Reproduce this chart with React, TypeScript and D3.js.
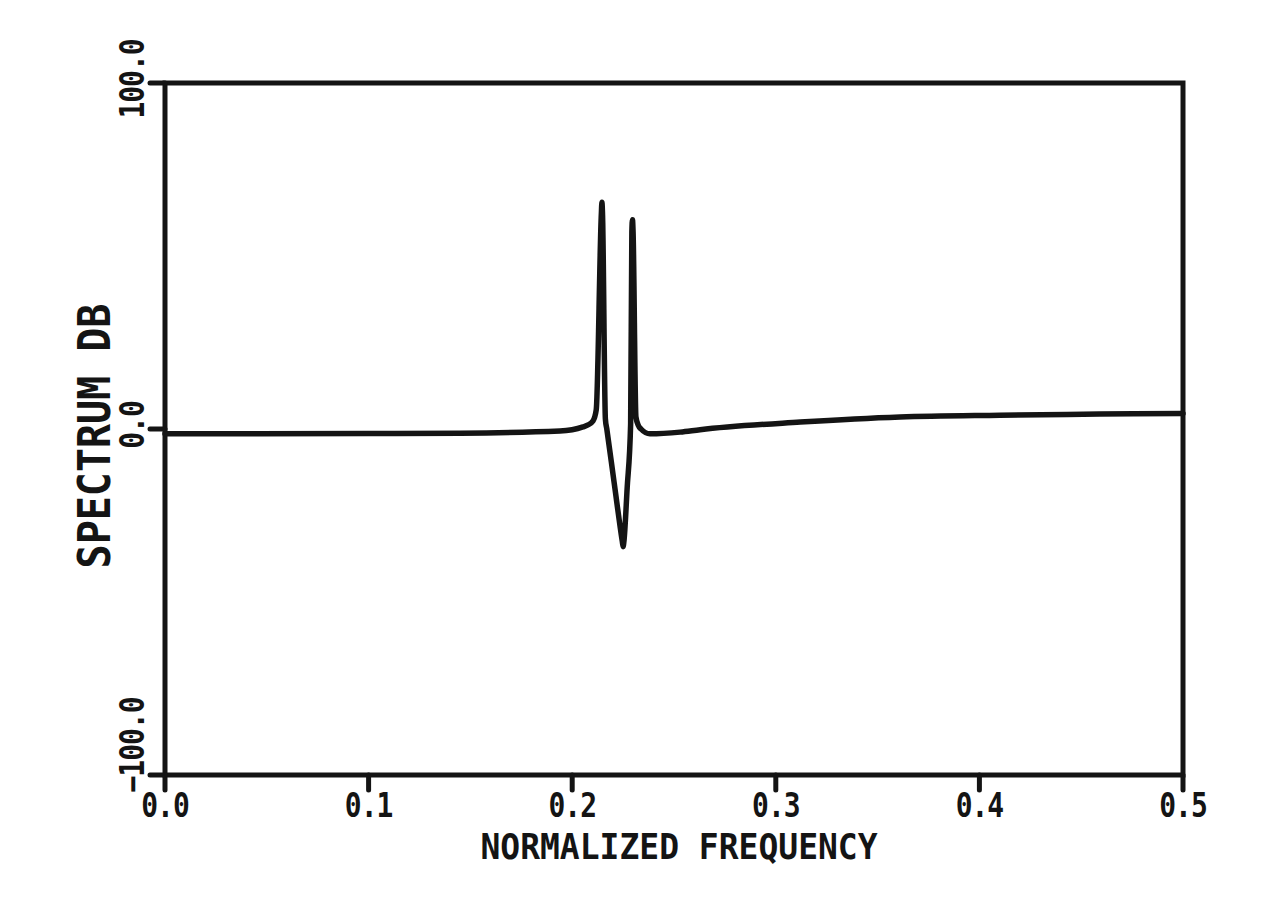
import React, { useEffect, useRef } from 'react';
import * as d3 from 'd3';

// normalized frequency / spectrum (dB)
const freq = [0, 0.1, 0.145, 0.194, 0.2053, 0.2075, 0.2102, 0.2118, 0.2143, 0.2146, 0.2149, 0.2163, 0.217, 0.2206, 0.2246, 0.225, 0.2254, 0.227, 0.2287, 0.2293, 0.2296, 0.2299, 0.2313, 0.2325, 0.2338, 0.2382, 0.253, 0.2628, 0.312, 0.361, 0.41, 0.459, 0.5];
const spectrumDb = [-1.4, -1.3, -1.2, -0.6, 0.6, 1.1, 2.3, 5.5, 62, 65.5, 62, 2.9, 0, -15.5, -32.5, -34, -32.5, -17, 1.5, 57, 60.5, 57, 3.5, 1.0, 0, -1.4, -0.9, -0.2, 2.0, 3.5, 4.0, 4.3, 4.5];

const xTicks = [0, 0.1, 0.2, 0.3, 0.4, 0.5];
const yTicks = [-100, 0, 100];
const xTitle = 'NORMALIZED FREQUENCY';
const yTitle = 'SPECTRUM DB';

const width = 1271;
const height = 920;
const ink = '#141414';
const font = '"DejaVu Sans Mono", monospace';

function SpectrumChart() {
  const ref = useRef<SVGSVGElement>(null);

  useEffect(() => {
    const margin = { top: 83, right: 88, bottom: 145, left: 165 };
    const svg = d3.select(ref.current);
    svg.selectAll('*').remove();

    const x = d3.scaleLinear().domain([0, 0.5]).range([margin.left, width - margin.right]);
    const y = d3.scaleLinear().domain([-100, 100]).range([height - margin.bottom, margin.top]);
    const bottom = height - margin.bottom;

    svg.append('rect').attr('width', width).attr('height', height).attr('fill', '#fff');

    // frame
    svg.append('rect')
      .attr('x', margin.left)
      .attr('y', margin.top)
      .attr('width', x(0.5) - x(0))
      .attr('height', bottom - margin.top)
      .attr('fill', 'none')
      .attr('stroke', ink)
      .attr('stroke-width', 5);

    // bottom ticks + labels
    const xg = svg.append('g');
    xTicks.forEach(t => {
      xg.append('line')
        .attr('x1', x(t)).attr('x2', x(t))
        .attr('y1', bottom).attr('y2', bottom + 15)
        .attr('stroke', ink).attr('stroke-width', 5).attr('stroke-linecap', 'round');
      xg.append('g')
        .attr('transform', `translate(${x(t)},${bottom + 42}) scale(1,1.2)`)
        .append('text')
        .attr('text-anchor', 'middle')
        .style('font-family', font)
        .style('font-weight', 'bold')
        .style('font-size', '28px')
        .style('letter-spacing', '-1px')
        .attr('fill', ink)
        .text(d3.format('.1f')(t));
    });

    // left ticks + rotated labels
    const yg = svg.append('g');
    yTicks.forEach(t => {
      yg.append('line')
        .attr('x1', margin.left - 15).attr('x2', margin.left)
        .attr('y1', y(t)).attr('y2', y(t))
        .attr('stroke', ink).attr('stroke-width', 5).attr('stroke-linecap', 'round');
      const cy = Math.min(y(t) - 4, bottom - 30);
      yg.append('g')
        .attr('transform', `translate(${margin.left - 21},${cy}) rotate(-90) scale(1,1.2)`)
        .append('text')
        .attr('text-anchor', 'middle')
        .style('font-family', font)
        .style('font-weight', 'bold')
        .style('font-size', '28px')
        .style('letter-spacing', '-1px')
        .attr('fill', ink)
        .text(d3.format('.1f')(t));
    });

    // axis titles
    svg.append('g')
      .attr('transform', `translate(${(x(0) + x(0.5)) / 2 + 5},${bottom + 84}) scale(1,1.1)`)
      .append('text')
      .attr('text-anchor', 'middle')
      .style('font-family', font)
      .style('font-weight', 'bold')
      .style('font-size', '33px')
      .attr('fill', ink)
      .text(xTitle);

    svg.append('g')
      .attr('transform', `translate(${margin.left - 55},${y(0) + 7}) rotate(-90) scale(1,1.1)`)
      .append('text')
      .attr('text-anchor', 'middle')
      .style('font-family', font)
      .style('font-weight', 'bold')
      .style('font-size', '40px')
      .attr('fill', ink)
      .text(yTitle);

    // spectrum curve
    const line = d3.line<number>()
      .x((d, i) => x(freq[i]))
      .y(d => y(d))
      .curve(d3.curveMonotoneX);

    svg.append('path')
      .attr('d', line(spectrumDb))
      .attr('fill', 'none')
      .attr('stroke', ink)
      .attr('stroke-width', 5.5)
      .attr('stroke-linejoin', 'round')
      .attr('stroke-linecap', 'round');
  }, []);

  return (
    <svg
      ref={ref}
      width={width}
      height={height}
      style={{ position: 'absolute', left: 0, top: 0, display: 'block' }}
    />
  );
}

export default function App() {
  return <SpectrumChart />;
}
